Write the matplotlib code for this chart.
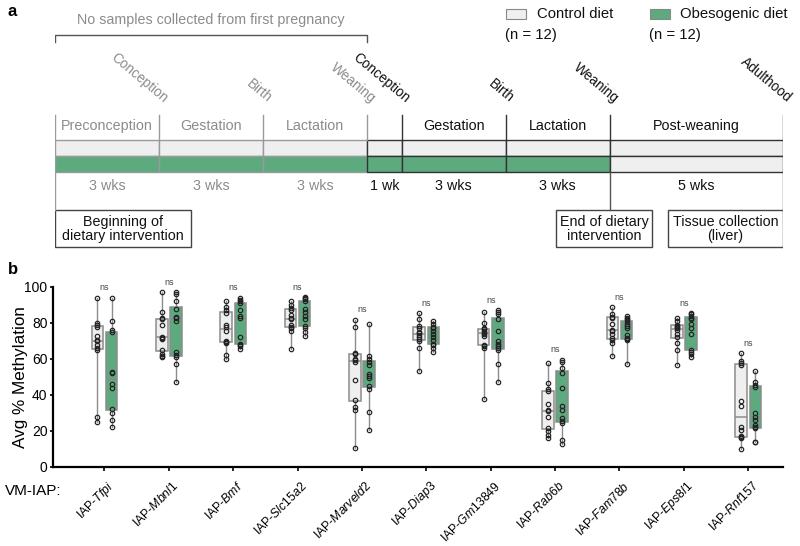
import matplotlib
matplotlib.use('Agg')
import matplotlib.pyplot as plt
from matplotlib.patches import Rectangle
import matplotlib.transforms as mtransforms
import numpy as np

plt.rcParams['font.family'] = ['Liberation Sans', 'DejaVu Sans']
plt.rcParams['mathtext.fontset'] = 'custom'
plt.rcParams['mathtext.rm'] = 'Liberation Sans'
plt.rcParams['mathtext.it'] = 'Liberation Sans:italic'

# ---------------- data: panel a (timeline) ----------------
seg_weeks = [3, 3, 3, 1, 3, 3, 5]
seg_phase = ['Preconception', 'Gestation', 'Lactation', '', 'Gestation', 'Lactation', 'Post-weaning']
seg_dur = ['3 wks', '3 wks', '3 wks', '1 wk', '3 wks', '3 wks', '5 wks']
seg_first = [True, True, True, False, False, False, False]
seg_obeso = [True, True, True, True, True, True, False]
events = ['Conception', 'Birth', 'Weaning', 'Conception', 'Birth', 'Weaning', 'Adulthood']
event_first = [True, True, True, False, False, False, False]

# ---------------- data: panel b (box plots) ----------------
genes = ['Tfpi', 'Mbnl1', 'Bmf', 'Slc15a2', 'Marveld2', 'Diap3', 'Gm13849',
         'Rab6b', 'Fam78b', 'Eps8l1', 'Rnf157']
control = [
    [25, 28, 65, 66, 68, 70, 70.5, 73, 78, 79, 80, 94],
    [61, 61.5, 63, 65, 71, 71.5, 72.5, 79, 82, 83, 86, 97],
    [60, 62, 69, 69.5, 70, 75.5, 78, 79, 85.5, 87, 89, 92],
    [65.5, 75.5, 77, 78, 79, 82, 83, 84.5, 87.5, 88.5, 90, 92],
    [10.4, 31.7, 33.6, 37.5, 48.4, 58.5, 59.5, 60, 62.7, 63.3, 77.6, 81.8],
    [53.5, 66, 70, 71, 72.5, 73.5, 74.5, 75, 77.5, 78.5, 82.5, 85.5],
    [37.8, 66, 67.5, 67.8, 73, 74, 74.5, 75.5, 76.5, 77, 80, 86],
    [16.3, 18, 19.8, 21.5, 27.6, 31, 31.4, 35.1, 42, 43.5, 46.9, 57.7],
    [61.4, 68.8, 70.5, 71.5, 74, 75.5, 76.3, 79.5, 83, 83.5, 85, 88.7],
    [56.4, 65.1, 68.8, 72.5, 74, 76, 77.5, 78, 78.5, 79, 81, 83],
    [10, 16, 16.5, 17, 20.6, 22.1, 34, 36.4, 56.8, 58, 59, 63.3],
]
obesogenic = [
    [22, 26, 30, 32, 44, 46, 52, 53, 75, 76, 81, 94],
    [47.5, 57, 61, 62, 64, 81, 83, 83.5, 88, 92, 96, 97],
    [65.5, 67, 68, 68.5, 72, 83, 84, 87, 91, 92, 93, 94],
    [73, 75, 77, 78.5, 82, 84, 86, 88, 92, 93.5, 94, 94.5],
    [20.6, 30.4, 43.5, 45, 49.5, 50.5, 51.5, 56.5, 58.5, 60, 61.5, 79.2],
    [64, 66, 68, 68.5, 70.5, 72, 74, 75.5, 77.5, 78, 79.5, 81],
    [47.5, 57, 65, 66, 67.5, 68.5, 70, 75.5, 82, 85, 86, 87],
    [12.6, 15, 24.5, 25.5, 27, 31.5, 34, 44, 52.5, 55, 58.3, 59.6],
    [57.1, 70.5, 71, 71.5, 73.5, 77, 78.5, 79.5, 81, 82, 83, 84],
    [60.9, 62.7, 64, 65, 74, 77.5, 79.5, 82, 83, 84, 85, 85.5],
    [13.7, 14, 21.5, 22, 23.5, 26, 28, 30, 44.5, 45.5, 47, 53.1],
]
sig = ['ns'] * len(genes)
yticks = [0, 20, 40, 60, 80, 100]

GREEN = '#5DAA7F'
GRAY = '#EFEFEF'
LGRAY_TXT = '#8c8c8c'
EDGE1 = '#9a9a9a'
EDGE2 = '#333333'
FS_A = 10.3

W, H = 800, 546
fig = plt.figure(figsize=(W / 100, H / 100), dpi=100)

# ---------------- panel a ----------------
tl_left, tl_right = 55, 783
axt = fig.add_axes([tl_left / W, 1 - 260 / H, (tl_right - tl_left) / W, 260 / H])
total = sum(seg_weeks)
axt.set_xlim(0, total)
axt.set_ylim(260, 0)
axt.axis('off')
pxw = (tl_right - tl_left) / total


def wk(px):
    return (px - tl_left) / pxw


edges = np.concatenate([[0], np.cumsum(seg_weeks)])
y_line_top, y_bar_top, y_bar_mid, y_bar_bot = 115, 140, 156, 172
y_box_top, y_box_bot = 210, 247

for i, w in enumerate(seg_weeks):
    x0 = edges[i]
    ec = EDGE1 if seg_first[i] else EDGE2
    tc = LGRAY_TXT if seg_first[i] else '#111111'
    axt.add_patch(Rectangle((x0, y_bar_top), w, y_bar_mid - y_bar_top, fc=GRAY, ec=ec, lw=1.0))
    axt.add_patch(Rectangle((x0, y_bar_mid), w, y_bar_bot - y_bar_mid,
                            fc=GREEN if seg_obeso[i] else GRAY, ec=ec, lw=1.0))
    if seg_phase[i]:
        axt.text(x0 + w / 2, 126, seg_phase[i], ha='center', va='center', fontsize=FS_A, color=tc)
    axt.text(x0 + w / 2, 186, seg_dur[i], ha='center', va='center', fontsize=FS_A, color=tc)

for j, e in enumerate(edges):
    first = j <= 3
    axt.plot([e, e], [y_line_top, y_bar_top], color=EDGE1 if first else EDGE2, lw=1.0)

for j, ev in enumerate(events):
    x = edges[j + 1]
    axt.text(x + 4 / pxw, 103, ev, rotation=-40, rotation_mode='anchor', ha='right', va='baseline',
             fontsize=9.8, color=LGRAY_TXT if event_first[j] else '#111111')

# lines down to the boxes
axt.plot([0, 0], [y_bar_bot, y_box_top], color=EDGE1, lw=1.0)
axt.plot([edges[6], edges[6]], [y_bar_bot, y_box_top], color='#555555', lw=1.0)
axt.plot([edges[7], edges[7]], [y_bar_bot, y_box_top], color='#555555', lw=1.0)

# annotation boxes
boxes = [((0, wk(191)), 'Beginning of\ndietary intervention'),
         ((wk(556), wk(652)), 'End of dietary\nintervention'),
         ((wk(668), total), 'Tissue collection\n(liver)')]
for (xa, xb), txt in boxes:
    axt.add_patch(Rectangle((xa, y_box_top), xb - xa, y_box_bot - y_box_top, fc='white', ec='#444444', lw=1.0))
    axt.text((xa + xb) / 2, (y_box_top + y_box_bot) / 2 + 0.5, txt, ha='center', va='center',
             fontsize=FS_A, color='#111111', linespacing=1.0)

# bracket
axt.plot([0, 0, edges[3], edges[3]], [42, 35, 35, 42], color='#555555', lw=1.0)
axt.text(edges[3] / 2, 20, 'No samples collected from first pregnancy', ha='center', va='center',
         fontsize=FS_A, color=LGRAY_TXT)

# legend
leg = [(506, 537, GRAY, 'Control diet'), (650, 680, GREEN, 'Obesogenic diet')]
for sx, tx, col, lab in leg:
    axt.add_patch(Rectangle((wk(sx), 9), wk(sx + 20) - wk(sx), 10, fc=col, ec='#888888', lw=0.8,
                            clip_on=False))
    axt.text(wk(tx), 14, lab, ha='left', va='center', fontsize=10.7, color='#111111', clip_on=False)
    axt.text(wk(sx - 1), 35, '(n = 12)', ha='left', va='center', fontsize=10.7, color='#111111', clip_on=False)

fig.text(8 / W, 1 - 12 / H, 'a', fontsize=12, fontweight='bold', va='center', ha='left')
fig.text(8 / W, 1 - 270 / H, 'b', fontsize=12, fontweight='bold', va='center', ha='left')

# ---------------- panel b ----------------
ax = fig.add_axes([53 / W, 79 / H, 730 / W, 180 / H])
n = len(genes)
pos = np.arange(n)
off, bw = 0.11, 0.18
common = dict(widths=bw, patch_artist=True, whis=(0, 100), showfliers=False, showcaps=False,
              medianprops=dict(color='#8c8c8c', lw=1.1),
              whiskerprops=dict(color='#8c8c8c', lw=1.0), manage_ticks=False)
ax.boxplot(control, positions=pos - off,
           boxprops=dict(facecolor=GRAY, edgecolor='#8c8c8c', lw=1.1), **common)
ax.boxplot(obesogenic, positions=pos + off,
           boxprops=dict(facecolor=GREEN, edgecolor='#8c8c8c', lw=1.1), **common)
for i in range(n):
    for vals, p in ((control[i], pos[i] - off), (obesogenic[i], pos[i] + off)):
        ax.plot(np.full(len(vals), p), vals, 'o', ms=3.2, mfc='none', mec='#222222', mew=0.85,
                zorder=4, clip_on=False)
    top = max(max(control[i]), max(obesogenic[i]))
    ax.text(pos[i], top + 3, sig[i], ha='center', va='bottom', fontsize=6.5, color='#444444', clip_on=False)

ax.set_xlim(-0.80, 10.54)
ax.set_ylim(0, 100)
ax.set_yticks(yticks)
ax.tick_params(axis='y', labelsize=10, length=2.5, width=1.2, pad=1.5)
ax.set_xticks(pos)
labels = ['IAP-$\\mathit{%s}$' % g for g in genes]
ax.set_xticklabels(labels, rotation=45, ha='right', va='center', rotation_mode='anchor', fontsize=8.8)
ax.tick_params(axis='x', length=3, width=1.2)
shift = mtransforms.ScaledTranslation(8 / 100, -8 / 100, fig.dpi_scale_trans)
for lab in ax.get_xticklabels():
    lab.set_transform(lab.get_transform() + shift)
for s in ['top', 'right']:
    ax.spines[s].set_visible(False)
for s in ['left', 'bottom']:
    ax.spines[s].set_linewidth(1.6)
ax.set_ylabel('Avg % Methylation', fontsize=12.3)
ax.yaxis.set_label_coords(-0.034, 0.5)
fig.text(5 / W, 1 - 491 / H, 'VM-IAP:', fontsize=11, ha='left', va='center')

fig.savefig('out.png', dpi=100)
